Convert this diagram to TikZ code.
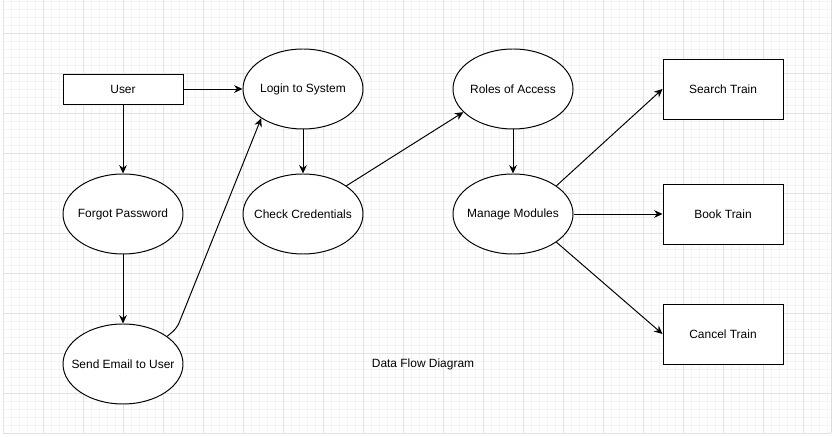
\documentclass[tikz,border=0pt]{standalone}
\usepackage{fontspec}
\setmainfont{Liberation Sans}
\usetikzlibrary{arrows.meta, shapes.geometric}
\definecolor{gridminor}{HTML}{F4F4F4}
\definecolor{gridmajor}{HTML}{E2E2E2}

\begin{document}
\begin{tikzpicture}[font=\fontsize{8.5}{10}\selectfont, line width=0.7pt, line join=miter,
	every node/.style={fill=white},
	proc/.style={draw, ellipse, minimum width=3cm, minimum height=2cm, inner sep=0pt, label=center:{#1}},
	ent/.style={draw, rectangle, minimum width=3cm, minimum height=1.5cm, inner sep=0pt},
	flow/.style={-{Stealth[length=6pt, width=5.5pt, inset=2pt]}}]
		% Background grid
		\useasboundingbox (0, 0) rectangle (20.875, -10.925);
		\fill[white] (0, 0) rectangle (20.875, -10.925);
		\begin{scope}[shift={(0.075, -0.8333)}]
		\draw[gridminor, line width=0.6pt, step=0.2] (0, 0.8333) grid (20.7, -10);
		\draw[gridmajor, line width=0.6pt, step=1] (0, 0.8333) grid (20.7, -10);
		\draw[gridmajor!120, line width=0.7pt] (20.7, 0.8333) -- (20.7, -10);
		\end{scope}
		
		% Row 1
		\node[ent, minimum height=0.75cm] (user) at (3.075, -2.225) {User};
		\node[proc={Login to System}] (login) at (7.575, -2.225) {};
		\node[proc={Roles of Access}] (roles) at (12.825, -2.225) {};
		\node[ent] (search) at (18.075, -2.225) {Search Train};
		
		% Row 2
		\node[proc={Forgot Password}] (forgot) at (3.075, -5.35) {};
		\node[proc={Check Credentials}] (check) at (7.575, -5.35) {};
		\node[proc={Manage Modules}] (manage) at (12.825, -5.35) {};
		\node[ent] (book) at (18.075, -5.35) {Book Train};
		
		% Row 3
		\node[proc={Send Email to User}] (email) at (3.075, -9.1) {};
		\node[fill=none] (title) at (10.575, -9.1) {Data Flow Diagram};
		\node[ent] (cancel) at (18.075, -8.35) {Cancel Train};
		
		% Flows
		\draw[flow] (user) -- (login);
		\draw[flow] (user) -- (forgot);
		\draw[flow] (forgot) -- (email);
		\draw[flow] (login) -- (check);
		\draw[flow] (check.33) -- (roles.205);
		\draw[flow] (roles) -- (manage);
		\draw[flow] (manage.33) -- (search.west);
		\draw[flow] (manage) -- (book);
		\draw[flow] (manage.-33) -- (cancel.west);
		\coordinate (bend) at (4.425, -8.2);
		\draw[flow, rounded corners=4pt] (email.32) -- (bend) -- (login.215);
		
	\end{tikzpicture}
\end{document}
